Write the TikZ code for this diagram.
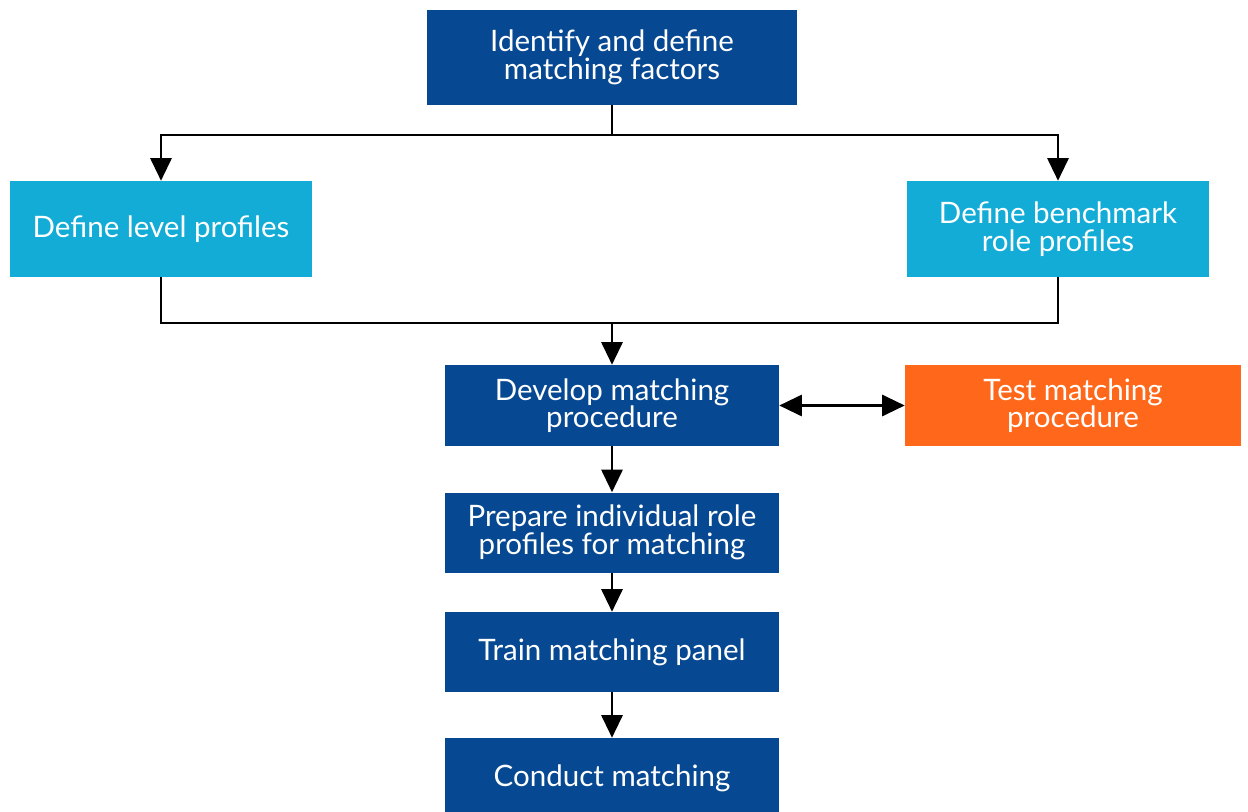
\documentclass[tikz,border=0pt]{standalone}
\usepackage{fontspec}
\setmainfont{Lato}
\usetikzlibrary{arrows.meta}
\definecolor{darkblue}{RGB}{6,72,145}
\definecolor{lightblue}{RGB}{18,172,214}
\definecolor{orangebox}{RGB}{255,104,26}
\begin{document}
\begin{tikzpicture}[
  box/.style={rectangle, inner sep=0pt, align=center, text=white,
    font=\fontsize{21}{19.5}\selectfont},
  dark/.style={box, fill=darkblue},
  light/.style={box, fill=lightblue},
  orange/.style={box, fill=orangebox},
  wire/.style={line width=1.7pt, black},
  tip/.tip={Triangle[length=16pt,width=15pt]},
  arr/.style={wire, -tip},
  dblarr/.style={wire, tip-tip}
]
\useasboundingbox (0,0) rectangle (31.2,-20.3);

\node[dark, minimum width=9.25cm, minimum height=2.375cm] (top) at (15.3,-1.4375)
  {Identify and define\\matching factors};
\node[light, minimum width=7.55cm, minimum height=2.4cm] (left) at (4.025,-5.725)
  {Define level profiles};
\node[light, minimum width=7.55cm, minimum height=2.4cm] (right) at (26.45,-5.725)
  {Define benchmark\\role profiles};
\node[dark, minimum width=8.35cm, minimum height=2.025cm] (develop) at (15.3,-10.1375)
  {Develop matching\\procedure};
\node[orange, minimum width=8.4cm, minimum height=2.025cm] (test) at (26.825,-10.1375)
  {Test matching\\procedure};
\node[dark, minimum width=8.35cm, minimum height=2.0cm] (prepare) at (15.3,-13.3125)
  {Prepare individual role\\profiles for matching};
\node[dark, minimum width=8.35cm, minimum height=2.0cm] (train) at (15.3,-16.3)
  {Train matching panel};
\node[dark, minimum width=8.35cm, minimum height=2.0cm] (conduct) at (15.3,-19.45)
  {Conduct matching};

\coordinate (split) at (15.3,-3.375);
\coordinate (join) at (15.3,-8.075);

\draw[wire] (top.south) -- (split);
\draw[arr] (split) -| (left.north);
\draw[arr] (split) -| (right.north);
\draw[wire] (left.south) |- (join) -| (right.south);
\draw[arr] (join) -- (develop.north);
\draw[dblarr] (develop.east) -- (test.west);
\draw[arr] (develop.south) -- (prepare.north);
\draw[arr] (prepare.south) -- (train.north);
\draw[arr] (train.south) -- (conduct.north);
\end{tikzpicture}
\end{document}
